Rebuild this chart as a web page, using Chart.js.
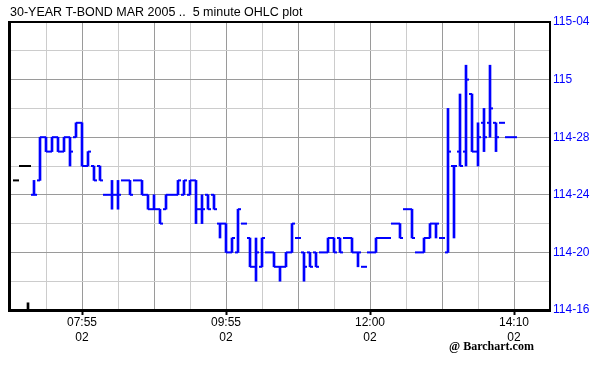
<!DOCTYPE html>
<html>
<head>
<meta charset="utf-8">
<title>30-YEAR T-BOND MAR 2005 - 5 minute OHLC</title>
<script src="https://cdn.jsdelivr.net/npm/chart.js@4/dist/chart.umd.min.js"></script>
<style>
  html, body { margin: 0; padding: 0; background: #fff; }
  #wrap { position: relative; width: 602px; height: 365px; }
</style>
</head>
<body>
<div id="wrap"><canvas id="myChart"></canvas></div>
<script>
// prices are in 32nds above 114 (28 = 114-28, 32 = 115, 36 = 115-04)
// one slot per 5 minute bar
const opens = [24, 25, 28, 27, 28, 27, 28, 28, 29, 26, 26, 26, 24, 24, 24, 25, 25, 25, 25, 24,
  23, 23, 23, 24, 24, 24, 24, 25, 23, 24, 24, 22, 22, 20, 20, 22, 21, 19, 19, 20,
  20, 19, 19, 20, 21, 20, 20, 20, 20, 20, 21, 21, 21, 21, 20, 19, 20, 20, 21, 21,
  22, 22, 23, 23, 20, 20, 21, 22, 21, 20, 26, 27, 27, 31, 27, 29, 29, 29, 29, 28, 28];
const highs = [25, 28, 28, 28, 28, 28, 28, 29, 29, 27, 26, 26, 24, 25, 25, 25, 25, 25, 25, 24,
  24, 23, 24, 24, 25, 25, 25, 25, 24, 24, 24, 22, 22, 21, 23, 22, 21, 21, 21, 20,
  20, 19, 20, 22, 21, 20, 20, 20, 20, 21, 21, 21, 21, 21, 20, 19, 20, 21, 21, 21,
  22, 22, 23, 23, 20, 21, 22, 22, 21, 30, 26, 31, 33, 31, 29, 30, 33, 29, 29, 28, 28];
const lows = [24, 25, 27, 27, 27, 27, 26, 28, 26, 26, 25, 25, 24, 23, 23, 25, 24, 25, 24, 23,
  23, 22, 23, 24, 24, 24, 24, 22, 22, 23, 23, 21, 20, 20, 20, 22, 19, 18, 19, 20,
  19, 18, 19, 20, 21, 18, 19, 19, 20, 20, 20, 20, 21, 20, 19, 19, 20, 20, 21, 21,
  22, 21, 23, 21, 20, 20, 21, 21, 21, 20, 21, 26, 26, 27, 26, 27, 28, 27, 29, 28, 28];
const closes = [24, 28, 27, 28, 27, 28, 27, 29, 26, 27, 25, 25, 24, 24, 24, 25, 24, 25, 24, 23,
  23, 22, 24, 24, 25, 25, 25, 23, 23, 23, 23, 22, 20, 21, 23, 22, 19, 20, 21, 20,
  19, 19, 20, 22, 21, 19, 19, 19, 20, 21, 20, 20, 21, 20, 20, 19, 20, 21, 21, 21,
  22, 21, 23, 21, 20, 21, 22, 22, 21, 27, 26, 26, 32, 27, 28, 28, 30, 28, 29, 28, 28];

// prior session marks, drawn in black before the first bar
const prevSlots = [-3, -2, -1];
const prevValues = [25, 26, 26];
const startMark = { slot: -1, range: [16, 16.5] };

// time axis labels (slot -> text)
const xTickSlots = [8, 32, 56, 80];
const xTickTimes = ["07:55", "09:55", "12:00", "14:10"];
const xTickDay = "02";

const title = "30-YEAR T-BOND MAR 2005 ..  5 minute OHLC plot";
const blue = "#0000ff";
const darkGrid = "#9a9a9a";
const lightGrid = "#cccccc";
const font = "'Liberation Sans', Arial, sans-serif";

const slots = opens.map((_, i) => i);
const xGrid = [];
for (let v = -4; v <= 86; v += 6) xGrid.push(v);
const yGrid = [];
for (let v = 16; v <= 36; v += 2) yGrid.push(v);

function priceLabel(v) {
  const whole = 114 + Math.floor(v / 32);
  const rem = v % 32;
  return rem === 0 ? String(whole) : whole + "-" + String(rem).padStart(2, "0");
}

function tickSet(points, color) {
  return {
    type: "line",
    data: points,
    showLine: false,
    pointStyle: "line",
    pointRadius: 1.5,
    pointBorderWidth: 2,
    pointBorderColor: color,
    borderColor: color,
    clip: false,
  };
}

const frame = {
  id: "frame",
  afterDraw(chart) {
    const { ctx, chartArea: a } = chart;
    ctx.save();
    ctx.fillStyle = "#000";
    ctx.fillRect(a.left - 1, a.top - 1, a.right - a.left + 2, 2);
    ctx.fillRect(a.left - 2, a.bottom - 1, a.right - a.left + 3, 3);
    ctx.fillRect(a.left - 2, a.top - 1, 3, a.bottom - a.top + 3);
    ctx.fillRect(a.right - 1, a.top - 1, 2, a.bottom - a.top + 2);
    ctx.font = "bold 12px 'Liberation Serif', 'Times New Roman', serif";
    ctx.textBaseline = "middle";
    ctx.fillText("@ Barchart.com", 449, 347);
    ctx.restore();
  },
};

const ctx = document.getElementById("myChart");

new Chart(ctx, {
  type: "bar",
  data: {
    datasets: [
      {
        label: "High-Low",
        data: slots.map((i) => ({ x: i, y: [lows[i], highs[i]] })),
        backgroundColor: blue,
        barThickness: 2,
        borderWidth: 0,
        grouped: false,
      },
      tickSet(slots.map((i) => ({ x: i - 0.25, y: opens[i] })), blue),
      tickSet(slots.map((i) => ({ x: i + 0.25, y: closes[i] })), blue),
      tickSet(
        prevSlots.flatMap((s, k) => [
          { x: s - 0.25, y: prevValues[k] },
          { x: s + 0.25, y: prevValues[k] },
        ]),
        "#000"
      ),
      {
        label: "Mark",
        data: [{ x: startMark.slot, y: startMark.range }],
        backgroundColor: "#000",
        barThickness: 2,
        borderWidth: 0,
        grouped: false,
      },
    ],
  },
  options: {
    responsive: true,
    maintainAspectRatio: false,
    animation: false,
    events: [],
    layout: { padding: { left: 10, right: 0, top: 0, bottom: 0 } },
    plugins: {
      legend: { display: false },
      tooltip: { enabled: false },
      title: {
        display: true,
        text: title,
        align: "start",
        color: "#000",
        font: { family: font, size: 12.5, weight: "normal", lineHeight: 1 },
        padding: { top: 6.5, bottom: 3 },
      },
    },
    scales: {
      x: {
        type: "linear",
        min: -4,
        max: 86,
        offset: false,
        afterBuildTicks: (s) => {
          s.ticks = xGrid.map((v) => ({ value: v }));
        },
        afterFit: (s) => {
          s.height = 55;
        },
        grid: {
          offset: false,
          lineWidth: 1,
          color: (c) => {
            const v = c.tick.value;
            if (v <= -4 || v >= 86) return "rgba(0,0,0,0)";
            return (((v - 8) % 12) + 12) % 12 === 0 ? darkGrid : lightGrid;
          },
          drawTicks: true,
          tickLength: 5,
          tickWidth: 2,
          tickColor: (c) => (xTickSlots.includes(c.tick.value) ? "#000" : "rgba(0,0,0,0)"),
        },
        border: { display: false },
        ticks: {
          autoSkip: false,
          maxRotation: 0,
          padding: 0,
          color: "#000",
          font: { family: font, size: 12, lineHeight: 1.25 },
          callback: (v) => {
            const k = xTickSlots.indexOf(v);
            return k < 0 ? "" : [xTickTimes[k], xTickDay];
          },
        },
      },
      y: {
        position: "right",
        min: 16,
        max: 36,
        afterBuildTicks: (s) => {
          s.ticks = yGrid.map((v) => ({ value: v }));
        },
        afterFit: (s) => {
          s.width = 52;
        },
        grid: {
          drawTicks: false,
          lineWidth: 1,
          color: (c) => {
            const v = c.tick.value;
            if (v <= 16 || v >= 36) return "rgba(0,0,0,0)";
            return v % 4 === 0 ? darkGrid : lightGrid;
          },
        },
        border: { display: false },
        ticks: {
          padding: 3,
          color: blue,
          font: { family: font, size: 12 },
          callback: (v) => (v % 4 === 0 ? priceLabel(v) : ""),
        },
      },
    },
  },
  plugins: [frame],
});
</script>
</body>
</html>
